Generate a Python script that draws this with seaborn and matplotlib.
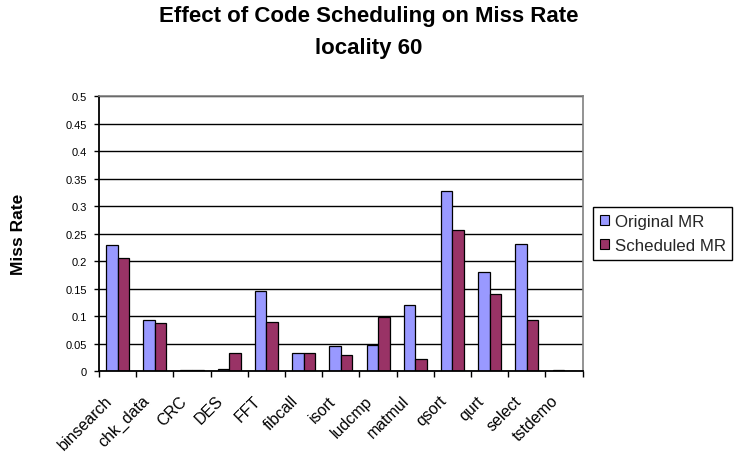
import matplotlib
matplotlib.use("Agg")
import matplotlib.pyplot as plt
import matplotlib.transforms as mtransforms
from matplotlib.patches import Patch
import numpy as np
import pandas as pd
import seaborn as sns

# Benchmarks and miss rates before / after code scheduling (locality 60)
benchmarks = ["binsearch", "chk_data", "CRC", "DES", "FFT", "fibcall", "isort",
              "ludcmp", "matmul", "qsort", "qurt", "select", "tstdemo"]
original_mr = [0.229, 0.092, 0.001, 0.003, 0.145, 0.033, 0.045,
               0.047, 0.121, 0.327, 0.181, 0.231, 0.001]
scheduled_mr = [0.206, 0.088, 0.001, 0.033, 0.090, 0.032, 0.029,
                0.098, 0.022, 0.256, 0.140, 0.092, 0.0]
series_names = ["Original MR", "Scheduled MR"]
series_colors = ["#9999FF", "#993366"]
y_ticks = [0, 0.05, 0.1, 0.15, 0.2, 0.25, 0.3, 0.35, 0.4, 0.45, 0.5]
y_tick_labels = ["0", "0.05", "0.1", "0.15", "0.2", "0.25", "0.3",
                 "0.35", "0.4", "0.45", "0.5"]

df = pd.DataFrame({
    "benchmark": benchmarks * 2,
    "miss_rate": original_mr + scheduled_mr,
    "series": [series_names[0]] * len(benchmarks) + [series_names[1]] * len(benchmarks),
})

sns.set_theme(style="white")
plt.rcParams["font.family"] = ["Liberation Sans", "DejaVu Sans"]

W, H = 737, 456
fig = plt.figure(figsize=(W / 100, H / 100), dpi=100, facecolor="white")
ax = fig.add_axes([99 / W, 1 - 372 / H, (582.7 - 99) / W, (372 - 97.3) / H])

sns.barplot(data=df, x="benchmark", y="miss_rate", hue="series",
            palette=series_colors, saturation=1, width=0.62,
            edgecolor="black", linewidth=0.9, ax=ax, legend=False)

ax.set_xlim(-0.5, len(benchmarks) - 0.5)
ax.set_ylim(0, 0.5)
ax.set_yticks(y_ticks)
ax.set_yticklabels(y_tick_labels)
ax.yaxis.grid(True, color="black", linewidth=1.0)
ax.set_axisbelow(True)
ax.xaxis.grid(False)

for side in ("left", "bottom"):
    ax.spines[side].set_color("black")
    ax.spines[side].set_linewidth(1.3)
for side in ("top", "right"):
    ax.spines[side].set_color("#808080")
    ax.spines[side].set_linewidth(1.2)

ax.tick_params(axis="y", which="major", left=True, length=3.5, width=1.0,
               color="black", pad=5, labelsize=8, labelcolor="black")
ax.set_xticks(np.arange(-0.5, len(benchmarks)), minor=True)
ax.tick_params(axis="x", which="minor", bottom=True, length=4.5, width=1.0,
               color="black")
ax.tick_params(axis="x", which="major", bottom=True, length=0, pad=19.4,
               labelsize=11.5, labelcolor="black")

shift = mtransforms.ScaledTranslation(-0.08, 0, fig.dpi_scale_trans)
for lbl in ax.get_xticklabels():
    lbl.set_rotation(45)
    lbl.set_ha("right")
    lbl.set_va("center")
    lbl.set_rotation_mode("anchor")
    lbl.set_transform(lbl.get_transform() + shift)

ax.set_xlabel("")
ax.set_ylabel("Miss Rate", fontsize=12.5, fontweight="bold", color="black",
              va="center")
ax.yaxis.set_label_coords((18.5 - 99) / (582.7 - 99), 0.5)

fig.text(0.5, 1 - 22 / H, "Effect of Code Scheduling on Miss Rate",
         ha="center", va="baseline", fontsize=16, fontweight="bold", color="black")
fig.text(0.5, 1 - 54 / H, "locality 60",
         ha="center", va="baseline", fontsize=16, fontweight="bold", color="black")

handles = [Patch(facecolor=c, edgecolor="black", linewidth=0.8, label=n)
           for c, n in zip(series_colors, series_names)]
leg = fig.legend(handles=handles, loc="upper left",
                 bbox_to_anchor=(593 / W, 1 - 208 / H), borderaxespad=0,
                 fontsize=12.2, frameon=True, fancybox=False, framealpha=1,
                 edgecolor="black", borderpad=0.4, handlelength=0.53,
                 handleheight=0.53, handletextpad=0.35, labelspacing=0.55)
leg.get_frame().set_linewidth(1.0)

fig.savefig("out.png", dpi=100, facecolor="white")
